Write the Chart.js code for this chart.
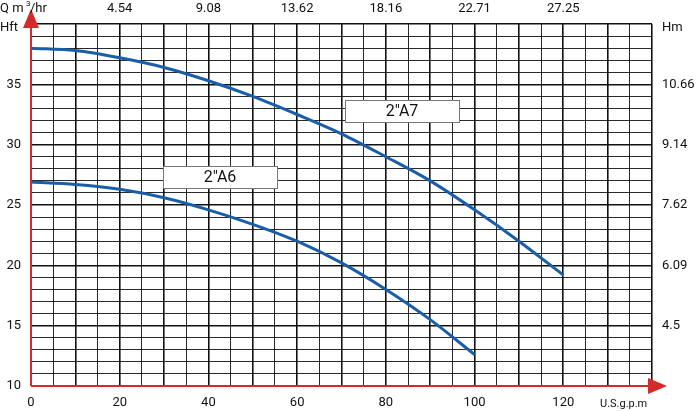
<!DOCTYPE html>
<html><head><meta charset="utf-8">
<script src="https://cdn.jsdelivr.net/npm/chart.js@4"></script>
<style>body{margin:0;background:#fff}#wrap{width:700px;height:411px}</style>
</head><body><div id="wrap"><canvas id="c"></canvas></div>
<script>
// curve data (x = U.S.g.p.m, y = Hft)
const flowA7 = [0, 10, 20, 30, 40, 50, 60, 70, 80, 90, 100, 110, 120];
const headA7 = [38, 37.8, 37.2, 36.4, 35.3, 34.0, 32.5, 30.9, 29.0, 27.0, 24.6, 22.0, 19.2];
const flowA6 = [0, 10, 20, 30, 40, 50, 60, 70, 80, 90, 100];
const headA6 = [26.9, 26.7, 26.3, 25.6, 24.6, 23.4, 22.0, 20.2, 18.0, 15.5, 12.6];
const gpmTicks = [0, 20, 40, 60, 80, 100, 120];
const m3hTicks = ['', '4.54', '9.08', '13.62', '18.16', '22.71', '27.25'];
const hftTicks = [10, 15, 20, 25, 30, 35];
const hmTicks = ['', '4.5', '6.09', '7.62', '9.14', '10.66'];

const labelsPlugin = {
  id: 'labels',
  afterDraw(chart) {
    const { ctx, chartArea: a, scales: { x, y } } = chart;
    ctx.save();
    // red axes with arrows (drawn first so the Q label sits on top)
    ctx.strokeStyle = '#d42a2a';
    ctx.fillStyle = '#d42a2a';
    ctx.lineWidth = 2;
    ctx.beginPath();
    ctx.moveTo(a.left, a.bottom); ctx.lineTo(a.left, 24);
    ctx.moveTo(a.left, a.bottom); ctx.lineTo(650, a.bottom);
    ctx.stroke();
    ctx.beginPath();
    ctx.moveTo(a.left, 9); ctx.lineTo(a.left - 8, 28); ctx.lineTo(a.left + 8, 28); ctx.closePath(); ctx.fill();
    ctx.beginPath();
    ctx.moveTo(667, a.bottom); ctx.lineTo(648, a.bottom - 8); ctx.lineTo(648, a.bottom + 8); ctx.closePath(); ctx.fill();

    ctx.font = '13px Roboto, sans-serif';
    ctx.fillStyle = '#111';
    ctx.textBaseline = 'middle';
    ctx.textAlign = 'center';
    gpmTicks.forEach((v, i) => {
      ctx.fillText(String(v), x.getPixelForValue(v), a.bottom + 17);
      if (m3hTicks[i]) ctx.fillText(m3hTicks[i], x.getPixelForValue(v), 9);
    });
    ctx.textAlign = 'right';
    hftTicks.forEach(v => ctx.fillText(String(v), 21, y.getPixelForValue(v)));
    ctx.textAlign = 'left';
    hftTicks.forEach((v, i) => { if (hmTicks[i]) ctx.fillText(hmTicks[i], a.right + 10, y.getPixelForValue(v)); });
    ctx.fillText('Hm', a.right + 10, 28);
    ctx.fillText('Hft', 0, 28);
    ctx.fillText('Q m', 0, 9);
    ctx.font = '8px Roboto, sans-serif';
    ctx.fillText('3', 26, 4);
    ctx.font = '13px Roboto, sans-serif';
    ctx.fillText('/hr', 30, 9);
    ctx.font = '11px Roboto, sans-serif';
    ctx.fillText('U.S.g.p.m', 600, a.bottom + 18);
    // curve name boxes
    const box = (label, x0, y0) => {
      ctx.fillStyle = '#fff';
      ctx.fillRect(x0, y0, 114, 22);
      ctx.strokeStyle = '#777';
      ctx.lineWidth = 1;
      ctx.strokeRect(x0 + 0.5, y0 + 0.5, 114, 22);
      ctx.fillStyle = '#111';
      ctx.font = '16px Roboto, sans-serif';
      ctx.textAlign = 'center';
      ctx.fillText(label, x0 + 57, y0 + 12);
    };
    box('2″A7', 345, 100);
    box('2″A6', 163, 166);
    ctx.restore();
  }
};

const curve = (xs, ys) => xs.map((v, i) => ({ x: v, y: ys[i] }));

new Chart(document.getElementById('c'), {
  type: 'line',
  data: {
    datasets: [
      { data: curve(flowA7, headA7), borderColor: '#1a5ea8', borderWidth: 3, pointRadius: 0, cubicInterpolationMode: 'monotone', fill: false },
      { data: curve(flowA6, headA6), borderColor: '#1a5ea8', borderWidth: 3, pointRadius: 0, cubicInterpolationMode: 'monotone', fill: false }
    ]
  },
  options: {
    animation: false,
    responsive: true,
    maintainAspectRatio: false,
    layout: { padding: { left: 31, right: 48, top: 24, bottom: 25 } },
    plugins: { legend: { display: false }, tooltip: { enabled: false } },
    scales: {
      x: {
        type: 'linear', min: 0, max: 140,
        ticks: { display: false, stepSize: 5 },
        border: { display: false },
        grid: {
          drawTicks: false, color: '#111',
          lineWidth: c => (c.tick && c.tick.value % 10 === 0 ? 1.6 : 0.9)
        }
      },
      y: {
        min: 10, max: 40,
        ticks: { display: false, stepSize: 1 },
        border: { display: false },
        grid: {
          drawTicks: false, color: '#111',
          lineWidth: c => (c.tick && c.tick.value % 5 === 0 ? 1.6 : 0.9)
        }
      }
    }
  },
  plugins: [labelsPlugin]
});
</script></body></html>
